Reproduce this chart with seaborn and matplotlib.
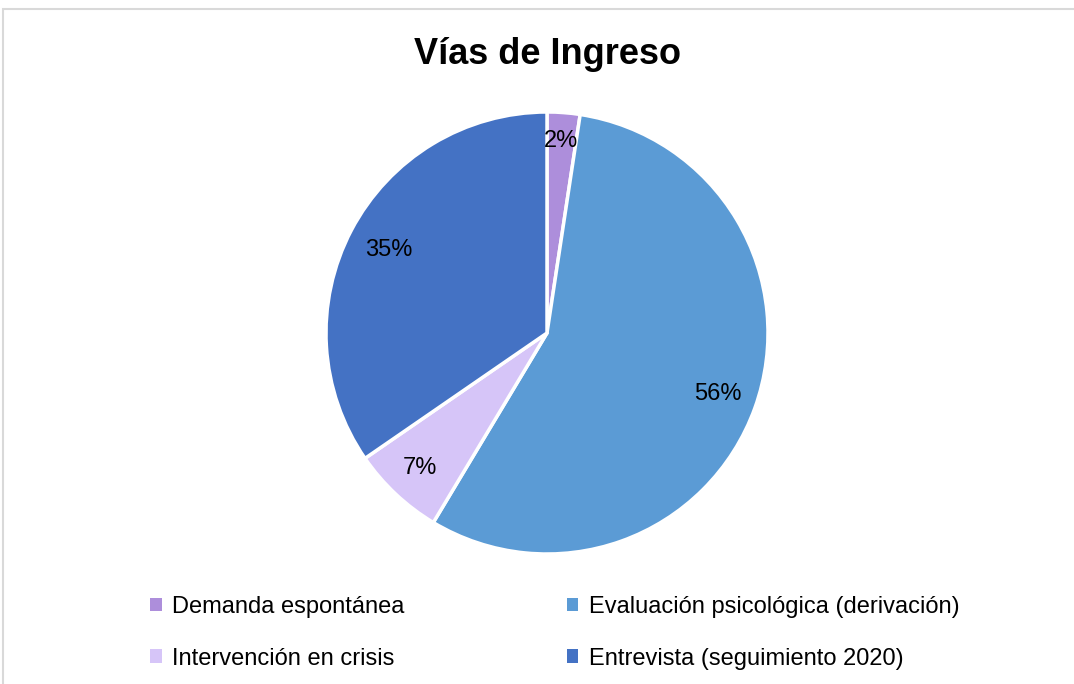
import matplotlib
matplotlib.use("Agg")
import matplotlib.pyplot as plt
import seaborn as sns
import numpy as np
from matplotlib.patches import Rectangle, Patch

sns.set_theme(style="white")
plt.rcParams['font.family'] = ['Liberation Sans', 'DejaVu Sans']
plt.rcParams['text.color'] = 'black'

title = "Vías de Ingreso"
categories = ["Demanda espontánea", "Evaluación psicológica (derivación)",
              "Intervención en crisis", "Entrevista (seguimiento 2020)"]
values = [2.4, 56.2, 6.8, 34.6]
labels_pct = ["2%", "56%", "7%", "35%"]
colors = ["#AD8EDB", "#5B9BD5", "#D6C5F8", "#4472C4"]

fig = plt.figure(figsize=(10.74, 6.84), dpi=100)
fig.patch.set_facecolor("white")

# chart border (left and top visible)
fig.add_artist(Rectangle((3 / 1074, -0.1), 1.2, 1.1 - 9 / 684,
                         transform=fig.transFigure, fill=False,
                         edgecolor="#D9D9D9", linewidth=1.5))

cx, cy, r = 547, 333, 221
ax = fig.add_axes([(cx - r) / 1074, 1 - (cy + r) / 684, 2 * r / 1074, 2 * r / 684])
ax.pie(values, colors=colors, startangle=90, counterclock=False,
       radius=1, wedgeprops=dict(edgecolor="white", linewidth=2.5))
ax.set_xlim(-1, 1)
ax.set_ylim(-1, 1)
ax.set_aspect("equal")
ax.axis("off")

cum = np.cumsum([0] + values)
tot = cum[-1]
dists = [0.87, 0.82, 0.84, 0.81]
for i, lab in enumerate(labels_pct):
    mid = (cum[i] + cum[i + 1]) / 2 / tot * 360
    ang = np.deg2rad(90 - mid)
    ax.text(dists[i] * np.cos(ang), dists[i] * np.sin(ang), lab,
            ha="center", va="center", fontsize=17, color="black")

fig.text(547 / 1074, 1 - 55 / 684, title, ha="center", va="center",
         fontsize=26, fontweight="bold", color="black")

order = [0, 2, 1, 3]
handles = [Patch(facecolor=colors[i], edgecolor="none") for i in order]
labs = [categories[i] for i in order]
leg = fig.legend(handles, labs, ncol=2, loc="upper left",
                 bbox_to_anchor=(150 / 1074, 1 - 596 / 684),
                 frameon=False, fontsize=17, handlelength=0.5, handleheight=0.5,
                 handletextpad=0.45, columnspacing=6.85, labelspacing=1.25,
                 borderpad=0, borderaxespad=0)
for t in leg.get_texts():
    t.set_color("black")

fig.savefig("out.png", dpi=100, facecolor="white")
